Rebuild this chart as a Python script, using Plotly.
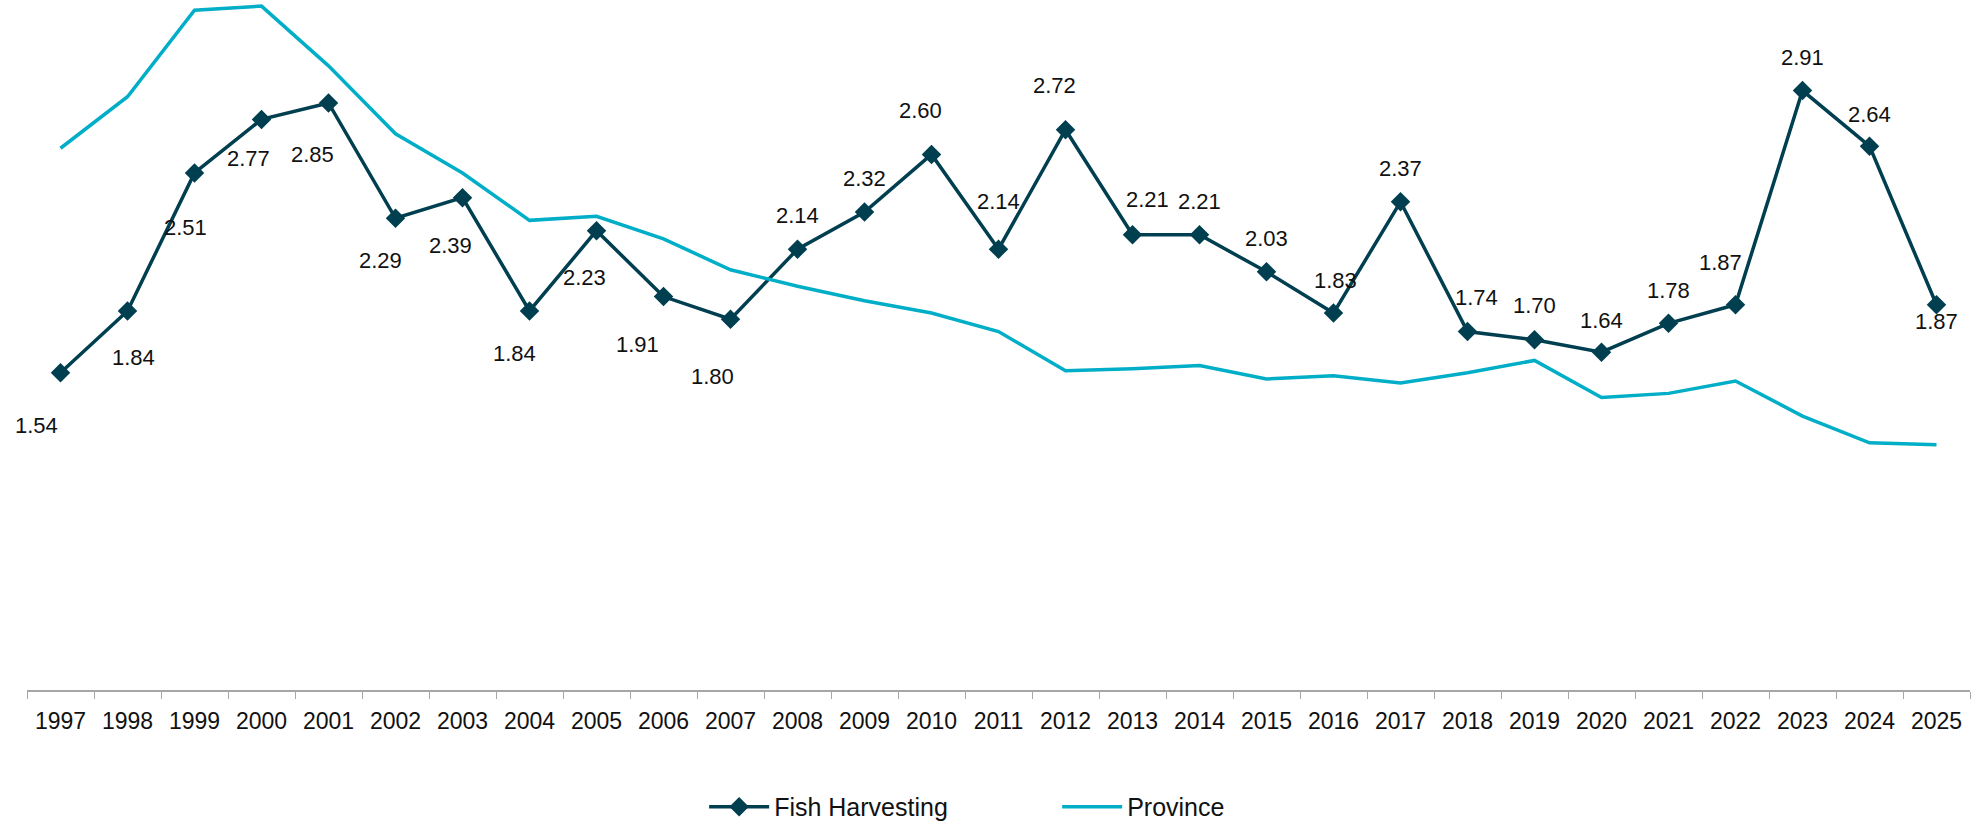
import plotly.graph_objects as go

years = [str(y) for y in range(1997, 2026)]

fish_harvesting = [1.54, 1.84, 2.51, 2.77, 2.85, 2.29, 2.39, 1.84, 2.23, 1.91,
                   1.80, 2.14, 2.32, 2.60, 2.14, 2.72, 2.21, 2.21, 2.03, 1.83,
                   2.37, 1.74, 1.70, 1.64, 1.78, 1.87, 2.91, 2.64, 1.87]

# province line has no labels
province = [2.63, 2.88, 3.30, 3.32, 3.03, 2.70, 2.51, 2.28, 2.30, 2.19,
            2.04, 1.96, 1.89, 1.83, 1.74, 1.55, 1.56, 1.575, 1.51, 1.525,
            1.49, 1.54, 1.60, 1.42, 1.44, 1.50, 1.33, 1.20, 1.19]

# pixel offsets of each value label from its marker (dx, dy; dy down)
label_shift = [(-24, 53), (6, 47), (-9, 55), (-13, 39), (-16, 52), (-15, 42),
               (-12, 48), (-15, 43), (-12, 47), (-26, 48), (-18, 57), (0, -34),
               (0, -34), (-11, -44), (0, -48), (-11, -44), (15, -35), (0, -33),
               (0, -33), (2, -33), (0, -33), (9, -34), (0, -34), (0, -32),
               (0, -33), (-15, -42), (0, -33), (0, -32), (0, 17)]

FISH_COLOR = "#003F50"
PROV_COLOR = "#00AEC7"
FONT = "Liberation Sans, Arial, sans-serif"

fig = go.Figure()

fig.add_trace(go.Scatter(
    x=years, y=fish_harvesting, name="Fish Harvesting",
    mode="lines+markers",
    line=dict(color=FISH_COLOR, width=3.5),
    marker=dict(symbol="diamond", size=15, color=FISH_COLOR),
))
fig.add_trace(go.Scatter(
    x=years, y=province, name="Province",
    mode="lines",
    line=dict(color=PROV_COLOR, width=3.5),
))

# category axis: annotations take the category index
for i, (v, (dx, dy)) in enumerate(zip(fish_harvesting, label_shift)):
    fig.add_annotation(
        x=i, y=v, text=f"{v:.2f}", showarrow=False,
        xshift=dx, yshift=-dy,
        font=dict(family=FONT, size=22, color="#111111"),
    )

fig.update_layout(
    width=1972, height=829,
    # keep the plot area fixed, legend must not push the margin
    margin=dict(l=27, r=2, t=2, b=139, autoexpand=False),
    paper_bgcolor="white", plot_bgcolor="white",
    font=dict(family=FONT, color="#111111"),
    showlegend=True,
    legend=dict(
        orientation="h", x=0.3485, xanchor="left", y=-0.1700, yanchor="middle",
        font=dict(size=25), entrywidth=278, entrywidthmode="pixels",
        itemwidth=60,
    ),
)
fig.update_xaxes(
    type="category", range=[-0.5, len(years) - 0.5],
    showline=True, linecolor="#A6A6A6", linewidth=1.5,
    ticks="outside", tickson="boundaries", ticklen=7, tickcolor="#A6A6A6",
    ticklabelstandoff=10,
    showgrid=False, tickfont=dict(size=23, color="#111111"),
)
fig.update_yaxes(range=[0, 3.34], visible=False, showgrid=False, zeroline=False)

fig.write_html("out.html", config={"displayModeBar": False},
               post_script="document.body.style.margin='0';")
